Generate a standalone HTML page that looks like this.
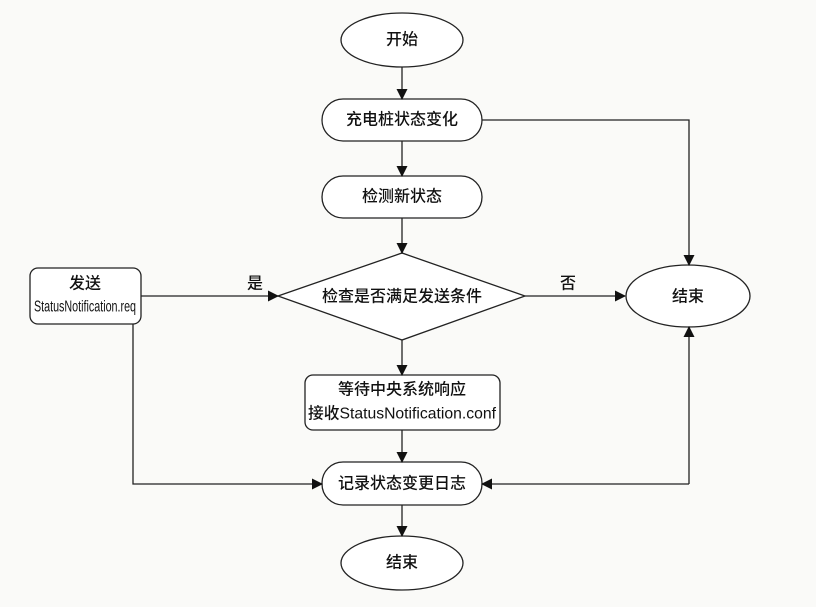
<!DOCTYPE html>
<html><head><meta charset="utf-8"><style>
html,body{margin:0;padding:0;background:#fafaf8;}
svg{display:block}
text{font-family:"Liberation Sans","Noto Sans CJK SC",sans-serif;font-size:16px;font-weight:500;fill:#111;text-anchor:middle;dominant-baseline:central}
</style></head><body>
<svg width="816" height="607" viewBox="0 0 816 607" xmlns="http://www.w3.org/2000/svg">
<defs><marker id="a" markerWidth="11" markerHeight="11" refX="10" refY="5.5" orient="auto" markerUnits="userSpaceOnUse"><path d="M0,0 L11,5.5 L0,11 Z" fill="#111"/></marker></defs>
<g fill="#fff" stroke="#222" stroke-width="1.3">
<ellipse cx="402" cy="40" rx="61" ry="27"/>
<rect x="322" y="99" width="160" height="42" rx="21"/>
<rect x="322" y="176" width="160" height="42" rx="21"/>
<polygon points="278,296 402,253 525,296 402,340"/>
<ellipse cx="688" cy="296" rx="62" ry="31"/>
<rect x="30" y="268" width="111" height="56" rx="8"/>
<rect x="305" y="375" width="195" height="55" rx="8"/>
<rect x="322" y="462" width="160" height="43" rx="21"/>
<ellipse cx="402" cy="563" rx="61" ry="27"/>
</g>
<g stroke="#222" stroke-width="1.3" fill="none" marker-end="url(#a)">
<line x1="402" y1="67" x2="402" y2="99"/>
<line x1="402" y1="141" x2="402" y2="176"/>
<line x1="402" y1="218" x2="402" y2="253"/>
<polyline points="482,120 689,120 689,265"/>
<line x1="141" y1="296" x2="278" y2="296"/>
<line x1="525" y1="296" x2="625" y2="296"/>
<line x1="402" y1="340" x2="402" y2="375"/>
<line x1="402" y1="430" x2="402" y2="462"/>
<polyline points="133,324 133,484 322,484"/>
<polyline points="689,484 482,484"/>
<line x1="689" y1="484" x2="689" y2="327"/>
<line x1="402" y1="505" x2="402" y2="536"/>
</g>
<text x="402" y="40">开始</text>
<text x="402" y="120">充电桩状态变化</text>
<text x="402" y="197">检测新状态</text>
<text x="402" y="297">检查是否满足发送条件</text>
<text x="688" y="297">结束</text>
<text x="85" y="284">发送</text>
<text x="85" y="307" textLength="102" lengthAdjust="spacingAndGlyphs">StatusNotification.req</text>
<text x="255" y="284">是</text>
<text x="568" y="284">否</text>
<text x="402" y="390">等待中央系统响应</text>
<text x="402" y="414" textLength="188" lengthAdjust="spacingAndGlyphs">接收StatusNotification.conf</text>
<text x="402" y="484">记录状态变更日志</text>
<text x="402" y="563">结束</text>
</svg>
</body></html>
